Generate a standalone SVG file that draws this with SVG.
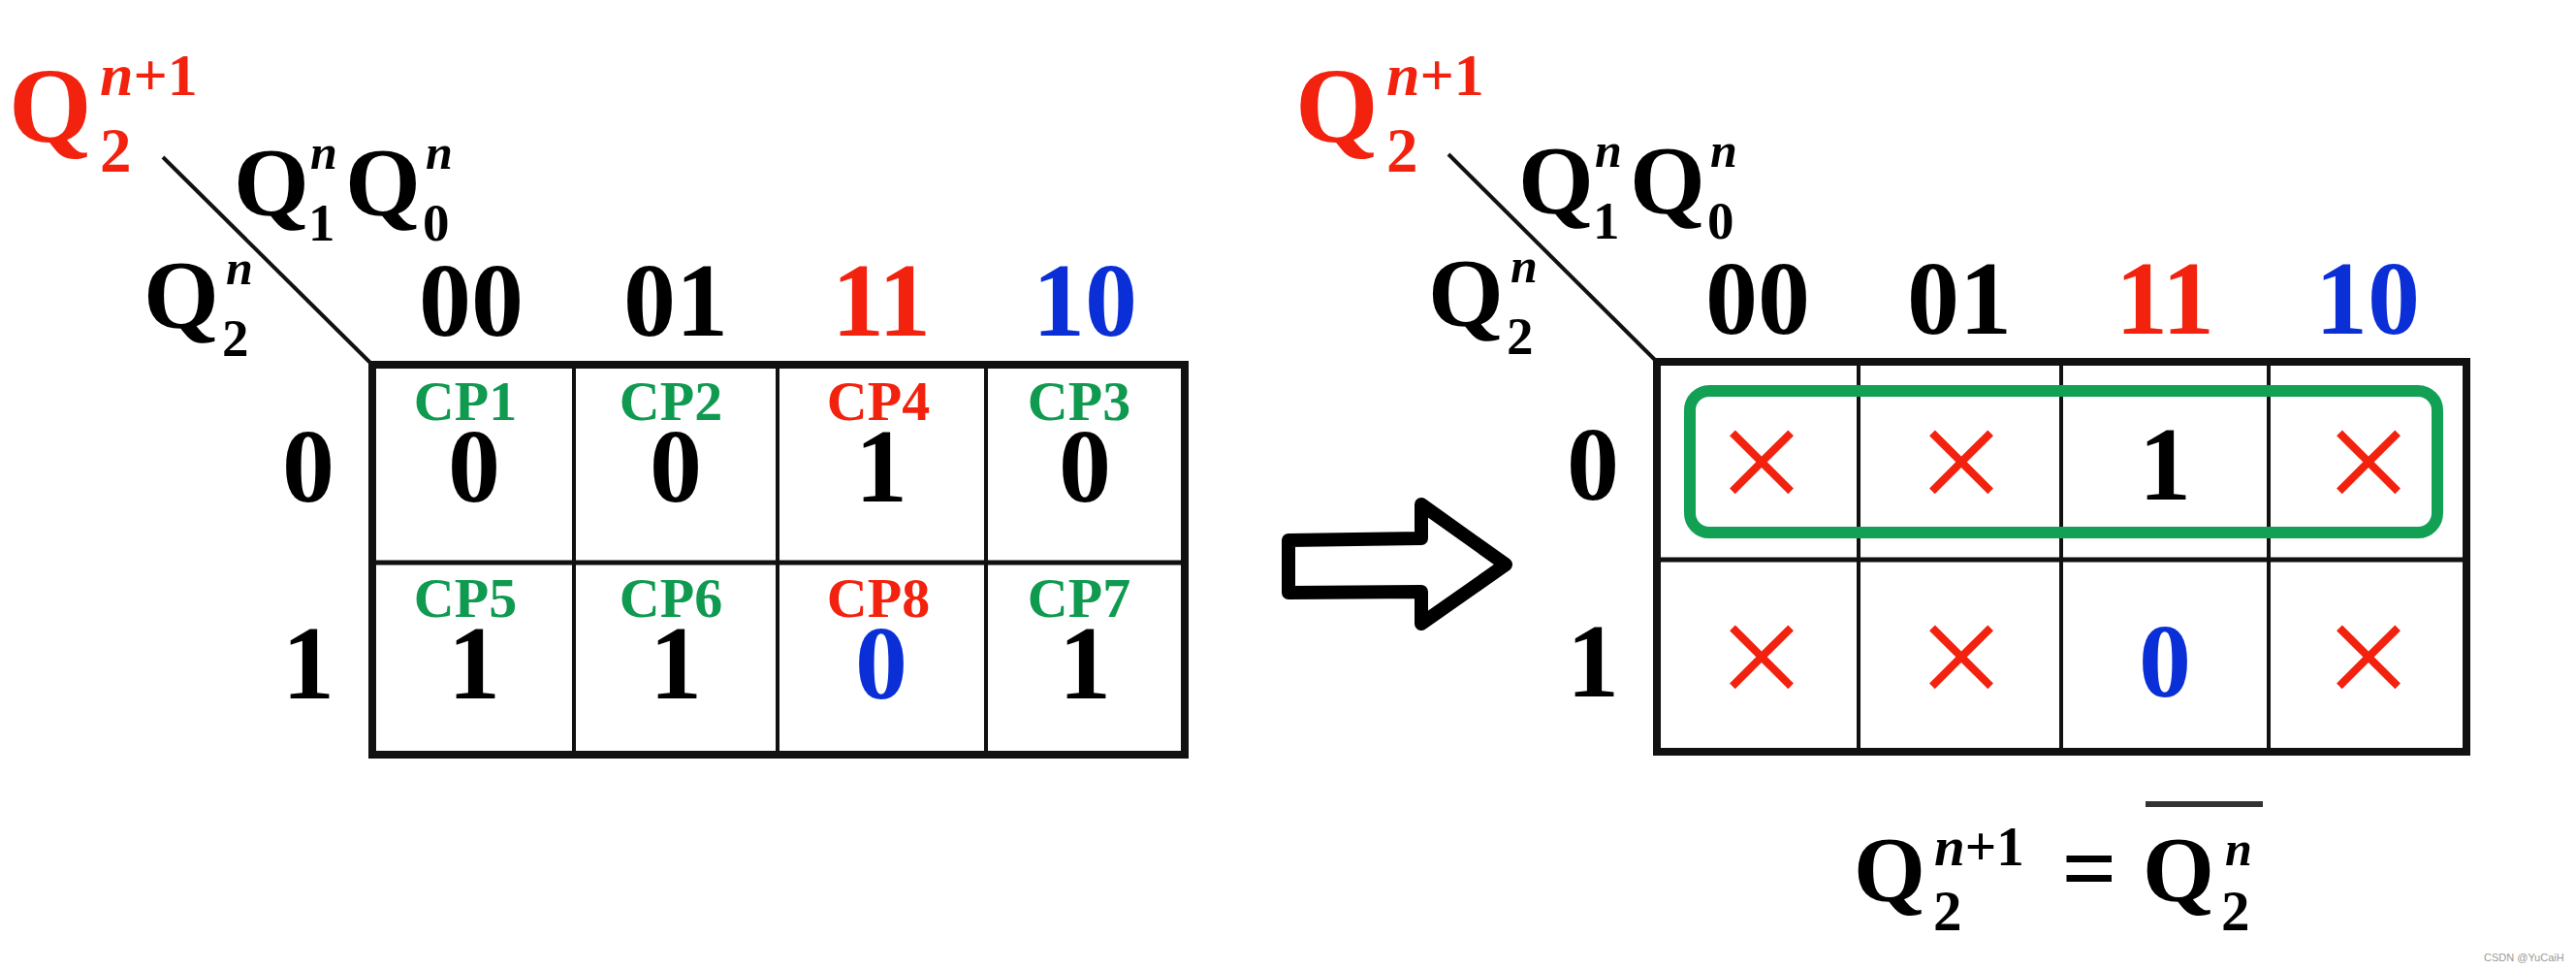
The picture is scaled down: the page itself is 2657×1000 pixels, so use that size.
<svg xmlns="http://www.w3.org/2000/svg" width="2657" height="1000" viewBox="0 0 2657 1000">
<style>
text{font-family:"Liberation Serif","Times New Roman",serif;font-weight:bold;fill:#000}
.it{font-style:italic}
.red{fill:#f2220f}
.blue{fill:#0b2fd6}
.grn{fill:#0f9a50}
.big{font-size:110px}
.q{font-size:100px}
.sub{font-size:55px}
.sup{font-size:50px}
.hdr{font-size:108px;text-anchor:middle}
.val{font-size:108px;text-anchor:middle}
.cp{font-size:58px;text-anchor:middle}
.x{font-family:"Liberation Serif",serif;font-weight:normal;font-size:162px;text-anchor:middle;fill:#f2220f}
.grid{fill:none;stroke:#111;stroke-width:8}
.div{stroke:#111;stroke-width:4}
.rdiv{stroke:#111;stroke-width:5}
.diag{stroke:#111;stroke-width:4}
</style>

<!-- LEFT K-MAP -->
<g id="left-map">
  <g id="left-corner">
    <text class="big red" x="9" y="146">Q</text>
    <text class="red" x="103" y="177" font-size="65">2</text>
    <text class="red" x="103" y="98" font-size="62"><tspan class="it">n</tspan>+1</text>
    <line class="diag" x1="168" y1="162" x2="384" y2="376"/>
    <text class="q" x="241" y="221">Q</text>
    <text class="sub" x="318" y="248">1</text>
    <text class="sup it" x="320" y="174">n</text>
    <text class="q" x="356" y="221">Q</text>
    <text class="sub" x="436" y="248">0</text>
    <text class="sup it" x="439" y="174">n</text>
    <text class="q" x="148" y="337">Q</text>
    <text class="sub" x="229" y="367">2</text>
    <text class="sup it" x="233" y="293">n</text>
  </g>
  <g id="left-headers">
    <text class="hdr" x="486" y="346">00</text>
    <text class="hdr" x="697" y="346">01</text>
    <text class="hdr red" x="909" y="346">11</text>
    <text class="hdr blue" x="1119" y="346">10</text>
    <text class="val" x="318" y="517">0</text>
    <text class="val" x="318" y="720">1</text>
  </g>
  <g id="left-grid">
    <rect class="grid" x="384" y="376" width="838" height="402"/>
    <line class="rdiv" x1="384" y1="580" x2="1222" y2="580"/>
    <line class="div" x1="592" y1="376" x2="592" y2="778"/>
    <line class="div" x1="802" y1="376" x2="802" y2="778"/>
    <line class="div" x1="1017" y1="376" x2="1017" y2="778"/>
  </g>
  <g id="left-cells">
    <text class="cp grn" x="480" y="433">CP1</text>
    <text class="cp grn" x="692" y="433">CP2</text>
    <text class="cp red" x="906" y="433">CP4</text>
    <text class="cp grn" x="1113" y="433">CP3</text>
    <text class="val" x="489" y="517">0</text>
    <text class="val" x="697" y="517">0</text>
    <text class="val" x="909" y="517">1</text>
    <text class="val" x="1119" y="517">0</text>
    <text class="cp grn" x="480" y="636">CP5</text>
    <text class="cp grn" x="692" y="636">CP6</text>
    <text class="cp red" x="906" y="636">CP8</text>
    <text class="cp grn" x="1113" y="636">CP7</text>
    <text class="val" x="489" y="720">1</text>
    <text class="val" x="697" y="720">1</text>
    <text class="val blue" x="909" y="720">0</text>
    <text class="val" x="1119" y="720">1</text>
  </g>
</g>

<!-- ARROW -->
<g id="connectors">
  <path id="arrow" d="M1329,557 L1466,555 L1466,520 L1553,582 L1466,643 L1466,610 L1329,611 Z" fill="#fff" stroke="#000" stroke-width="14" stroke-linejoin="round"/>
</g>

<!-- RIGHT K-MAP -->
<g id="right-map">
  <g id="right-corner">
    <text class="big red" x="1336" y="146">Q</text>
    <text class="red" x="1430" y="177" font-size="65">2</text>
    <text class="red" x="1430" y="98" font-size="62"><tspan class="it">n</tspan>+1</text>
    <line class="diag" x1="1494" y1="159" x2="1709" y2="373"/>
    <text class="q" x="1566" y="219">Q</text>
    <text class="sub" x="1643" y="246">1</text>
    <text class="sup it" x="1645" y="172">n</text>
    <text class="q" x="1681" y="219">Q</text>
    <text class="sub" x="1761" y="246">0</text>
    <text class="sup it" x="1764" y="172">n</text>
    <text class="q" x="1473" y="335">Q</text>
    <text class="sub" x="1554" y="365">2</text>
    <text class="sup it" x="1558" y="291">n</text>
  </g>
  <g id="right-headers">
    <text class="hdr" x="1813" y="344">00</text>
    <text class="hdr" x="2021" y="344">01</text>
    <text class="hdr red" x="2233" y="344">11</text>
    <text class="hdr blue" x="2442" y="344">10</text>
    <text class="val" x="1643" y="515">0</text>
    <text class="val" x="1643" y="718">1</text>
  </g>
  <g id="right-grid">
    <rect class="grid" x="1709" y="373" width="835" height="402"/>
    <line class="rdiv" x1="1709" y1="577" x2="2544" y2="577"/>
    <line class="div" x1="1917" y1="373" x2="1917" y2="775"/>
    <line class="div" x1="2126" y1="373" x2="2126" y2="775"/>
    <line class="div" x1="2340" y1="373" x2="2340" y2="775"/>
  </g>
  <g id="right-cells">
    <text class="x" x="1817" y="530">×</text>
    <text class="x" x="2023" y="530">×</text>
    <text class="val" x="2233" y="515">1</text>
    <text class="x" x="2443" y="530">×</text>
    <text class="x" x="1817" y="731">×</text>
    <text class="x" x="2023" y="731">×</text>
    <text class="val blue" x="2233" y="718">0</text>
    <text class="x" x="2443" y="731">×</text>
  </g>
  <g id="group-loop">
    <rect x="1743" y="403" width="771" height="146" rx="20" ry="20" fill="none" stroke="#12a055" stroke-width="12"/>
  </g>
</g>

<!-- FORMULA -->
<g id="formula">
  <text x="1912" y="929" font-size="95">Q</text>
  <text x="1994" y="959" font-size="59">2</text>
  <text x="1995" y="892" font-size="57"><tspan class="it">n</tspan>+1</text>
  <text x="2155" y="929" font-size="100" text-anchor="middle">=</text>
  <text x="2210" y="929" font-size="95">Q</text>
  <text x="2291" y="959" font-size="59">2</text>
  <text class="it" x="2295" y="892" font-size="50">n</text>
  <line x1="2213" y1="829" x2="2334" y2="829" stroke="#333" stroke-width="6"/>
</g>

<text id="watermark" x="2562" y="991" style="font-family:'Liberation Sans',Arial,sans-serif;font-weight:normal;font-size:11px;fill:#9a9a9a">CSDN @YuCaiH</text>
</svg>
